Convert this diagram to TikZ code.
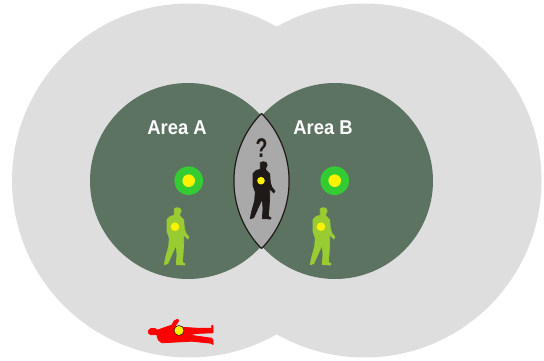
\documentclass[tikz,border=0pt]{standalone}
\usepackage{fontspec}
\setmainfont{Liberation Sans}
\newfontfamily\narrowfont[FakeStretch=0.92]{Liberation Sans}
\newfontfamily\markfont[FakeStretch=0.72]{Liberation Sans}
\usepackage{xcolor}
\usetikzlibrary{positioning}
\definecolor{outerarea}{HTML}{DEDEDE}
\definecolor{innerarea}{HTML}{5C7361}
\definecolor{lensarea}{HTML}{A9A9A9}
\definecolor{beacon}{HTML}{33CC33}
\definecolor{personlime}{HTML}{99CC33}
\definecolor{persondark}{HTML}{1F1A17}
\tikzstyle{outerdisc}=[fill=outerarea, draw=none]
\tikzstyle{innerdisc}=[fill=innerarea, draw=none]
\tikzstyle{arealabel}=[text=white, font=\narrowfont\bfseries\fontsize{20}{20}\selectfont, inner sep=0pt]
\tikzstyle{limefigure}=[fill=personlime, draw=personlime, line width=0.7pt, line join=round]
\tikzstyle{darkfigure}=[fill=persondark, draw=persondark, line width=0.7pt, line join=round]
\tikzstyle{redfigure}=[fill=red, draw=red, line width=0.8pt, line join=round]
\tikzset{
  person/.pic={
    \path[pic actions] (-0.7,-18) -- (2,-19) -- (5,-18.3) -- (6.2,-15.5) -- (5,-13) -- (4.7,-11)
      -- (8.7,-7) -- (9.3,1.3) -- (10.7,6.3) -- (14,10.3) -- (12.7,12.3) -- (8.7,8)
      -- (8.7,16.3) -- (8,28) -- (7.3,35.7) -- (10,37) -- (9.7,38.3) -- (1.3,38) -- (2,28)
      -- (1.3,18) -- (-4,29.7) -- (-7.3,37) -- (-10.7,38) -- (-9.7,32.3) -- (-6.3,19.7)
      -- (-5.7,11.3) -- (-8,4.7) -- (-8,-7) -- (-4.7,-10.3) -- (-0.7,-11.3) -- cycle;
  },
  lying/.pic={
    \path[pic actions] (-30.7,0.3) -- (-28.3,-2) -- (-24,-2) -- (-21.7,-0.3) -- (-12.3,-3.7)
      -- (-7.3,-5.3) -- (-4.7,-9.7) -- (-1.3,-11.3) -- (-0.3,-9.7) -- (-4,-4.3) -- (6,-3)
      -- (17.7,-2.3) -- (32.7,-2.3) -- (32.7,-5) -- (34,-5) -- (34,2.3) -- (16,3) -- (11,4.7)
      -- (32.7,7.7) -- (34,10) -- (34,14) -- (32,12.7) -- (12.7,10.7) -- (-5.7,11.7)
      -- (-17.3,12.3) -- (-20.7,9.3) -- (-22.3,4) -- (-28.3,4.3) -- (-30.7,2.3) -- cycle;
  }
}

\begin{document}
\begin{tikzpicture}[x=1pt, y=-1pt]
  \useasboundingbox (0,0) rectangle (544,361);

  % outer areas
  \fill[outerdisc] (189,180.5) circle (177);
  \fill[outerdisc] (364.5,180.5) circle (177);

  % inner areas
  \fill[innerdisc] (188,181) circle (98);
  \fill[innerdisc] (335,181) circle (98);

  % overlap
  \begin{scope}
    \clip (192.5,181) circle (96.6);
    \fill[lensarea] (330.5,181) circle (96.6);
    \draw[persondark, line width=1.2pt] (330.5,181) circle (96.6);
  \end{scope}
  \begin{scope}
    \clip (330.5,181) circle (96.6);
    \draw[persondark, line width=1.2pt] (192.5,181) circle (96.6);
  \end{scope}

  % labels
  \node[arealabel] (areaA) at (177,127.5) {Area A};
  \node[arealabel] (areaB) at (323,127.5) {Area B};
  \node[text=persondark, font=\markfont\bfseries\fontsize{27}{27}\selectfont, inner sep=0pt] (query) at (261.5,148) {?};

  % beacons
  \fill[beacon] (188.7,180.7) circle (14.3);
  \fill[yellow] (188.7,180.7) circle (6.3);
  \fill[beacon] (334.7,180.7) circle (14.3);
  \fill[yellow] (334.7,180.7) circle (6.3);

  % people
  \pic[limefigure] at (175,226.7) {person};
  \fill[yellow] (175,226.7) circle (4.3);
  \pic[limefigure] at (321,226.7) {person};
  \fill[yellow] (321,226.7) circle (4.3);
  \pic[darkfigure] at (261,180.7) {person};
  \fill[yellow] (261,180.7) circle (3.8);
  \pic[redfigure] at (179,330.5) {lying};
  \filldraw[fill=yellow, draw=persondark, line width=0.6pt] (179,330.5) circle (5);

\end{tikzpicture}
\end{document}
